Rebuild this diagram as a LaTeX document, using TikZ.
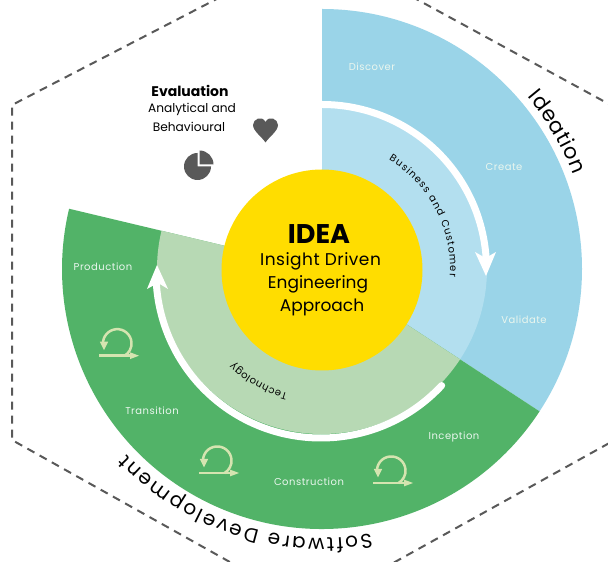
\documentclass[tikz,border=0pt]{standalone}
\usepackage{fontspec}
\setmainfont{Poppins}
\usetikzlibrary{decorations.text}
\definecolor{bluedark}{HTML}{9AD4E8}
\definecolor{bluelight}{HTML}{B3DFEF}
\definecolor{greendark}{HTML}{52B368}
\definecolor{greenlight}{HTML}{B7D9B4}
\definecolor{ideayellow}{HTML}{FFDD00}
\definecolor{iconcol}{HTML}{D5E4B0}
\definecolor{hexcol}{HTML}{595959}
\definecolor{lab}{HTML}{EAF6EE}
\tikzset{
  phase/.style={font=\fontsize{10}{13}\selectfont\addfontfeatures{LetterSpace=5}, text=lab, inner sep=0pt},
  centretxt/.style={font=\fontsize{17}{22}\selectfont, text=black, inner sep=0pt},
  evaltxt/.style={font=\fontsize{12.2}{15}\selectfont, text=black, inner sep=0pt},
  hexline/.style={draw=hexcol, line width=2pt, dash pattern=on 8pt off 6pt},
  flow/.style={draw=white, line width=7pt},
  cycline/.style={draw=iconcol, line width=2.5pt},
  curvedtxt/.style={decorate, decoration={text along path, text align=fit to path, text={#1}}},
}
\newcommand{\cycleicon}[2]{%
  \begin{scope}[shift={(#1,#2)}]
    \draw[cycline] (0,0) -- (32,0);
    \fill[iconcol] (40,0) -- (31,3.4) -- (31,-3.4) -- cycle;
    \draw[cycline] (4,11) arc[start angle=185, end angle=-60, radius=14.3];
    \fill[iconcol] (5,5.5) -- (0.8,14) -- (9.2,14) -- cycle;
  \end{scope}}
\begin{document}
\begin{tikzpicture}[x=1pt,y=1pt]
\useasboundingbox (0,0) rectangle (608,562);
\fill[white] (0,0) rectangle (608,562);
\begin{scope}
  \clip (0,0) rectangle (608,562);
  \draw[hexline] (640,441) -- (319,616) -- (12,457) -- (12,122) -- (312,-46) -- (640,136);
\end{scope}
\begin{scope}[shift={(322,293)}]
  \fill[bluedark] (0,0) -- (0,260) arc[start angle=90, end angle=-33.2, radius=260] -- cycle;
  \fill[bluelight] (0,0) -- (0,165) arc[start angle=90, end angle=-33.2, radius=165] -- cycle;
  \fill[greendark] (0,0) -- (-33.2:260) arc[start angle=-33.2, end angle=-193.4, radius=260] -- cycle;
  \fill[greenlight] (0,0) -- (-33.2:165) arc[start angle=-33.2, end angle=-193.4, radius=165] -- cycle;
  \draw[flow] (0,164.5) arc[start angle=90, end angle=3, radius=164.5];
\end{scope}
\begin{scope}[shift={(321,289)}]
  \draw[flow, line cap=round] (-43:165) arc[start angle=-43, end angle=-178, radius=165];
\end{scope}
\fill[white] (486,286) -- (475,310) -- (485.5,304) -- (496,310) -- cycle;
\fill[white] (157,297) -- (147,273) -- (158,279) -- (168,273) -- cycle;
\node[circle, fill=ideayellow, minimum size=201pt, inner sep=0pt] (core) at (322,292) {};
\node[font=\fontsize{27}{32}\selectfont\bfseries, inner sep=0pt] (idea) at (319,327.5) {IDEA};
\node[centretxt, font=\fontsize{17}{22}\selectfont\addfontfeatures{LetterSpace=3}] (t1) at (320.5,300.5) {Insight Driven};
\node[centretxt] (t2) at (318,277.5) {Engineering};
\node[centretxt] (t3) at (322,254.5) {Approach};
\node[phase] (discover) at (372,495.5) {Discover};
\node[phase] (create) at (504,394.5) {Create};
\node[phase] (validate) at (524,242.5) {Validate};
\node[phase] (production) at (103,295) {Production};
\node[phase] (transition) at (152,151.5) {Transition};
\node[phase] (construction) at (309,80.5) {Construction};
\node[phase] (inception) at (454,125.5) {Inception};
\node[font=\fontsize{14}{16}\selectfont\bfseries, inner sep=0pt] (evalhead) at (190,471) {Evaluation};
\node[evaltxt] (eval1) at (192,453) {Analytical and};
\node[evaltxt] (eval2) at (189,435.5) {Behavioural};
% heart
\fill[hexcol] (265.5,419.5) .. controls (262,425) and (253,431) .. (253,437) .. controls (253,443) and (262,447) .. (265.5,440) .. controls (269,447) and (278,443) .. (278,437) .. controls (278,431) and (269,425) .. (265.5,419.5) -- cycle;
% pie
\fill[hexcol] (197.5,395.5) -- (197.5,409) arc[start angle=90, end angle=360, radius=13.5] -- cycle;
\fill[hexcol] (199.5,397.5) -- (199.5,411.5) arc[start angle=90, end angle=0, radius=14] -- cycle;
\cycleicon{99}{206.3}
\cycleicon{199}{89}
\cycleicon{373}{79}
% curved texts
\path[curvedtxt={|\fontsize{21}{24}\selectfont|Ideation}] (322,293) ++(40:268) arc[start angle=40, end angle=20.5, radius=268];
\path[curvedtxt={|\fontsize{20}{24}\selectfont|Software Development}] (322,293) ++(-79.5:269) arc[start angle=-79.5, end angle=-136.5, radius=269];
\path[curvedtxt={|\fontsize{10}{12}\selectfont|Business and Customer}] (322,293) ++(58.5:128) arc[start angle=58.5, end angle=-3.5, radius=128];
\path[curvedtxt={|\fontsize{10}{12}\selectfont|Technology}] (322,293) ++(-105.5:129) arc[start angle=-105.5, end angle=-133.5, radius=129];
\end{tikzpicture}
\end{document}
